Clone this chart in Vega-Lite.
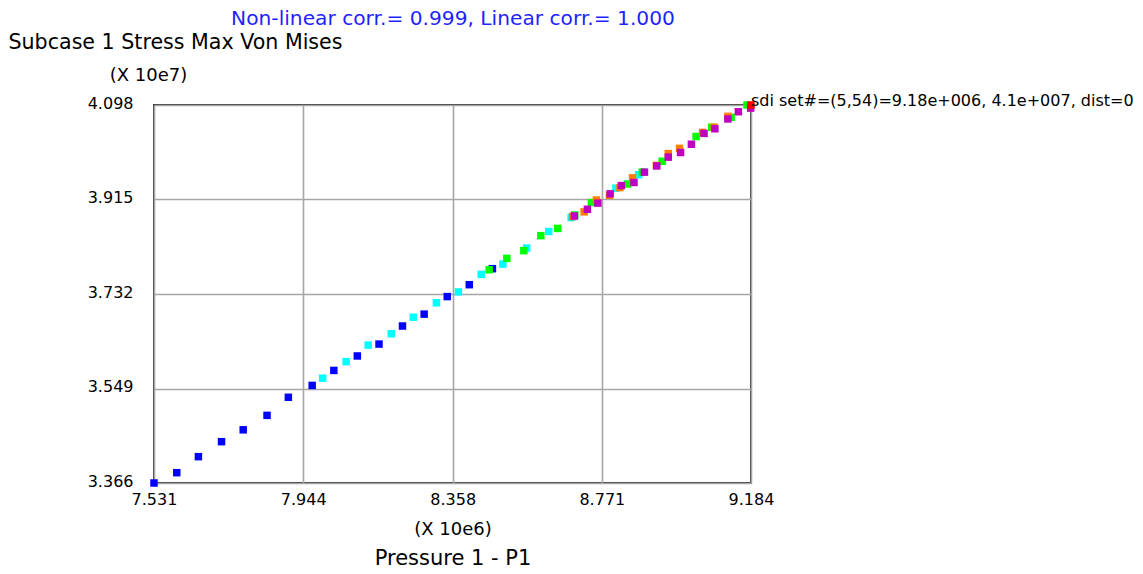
{
  "$schema": "https://vega.github.io/schema/vega-lite/v6.json",
  "width": 597,
  "height": 378,
  "autosize": {"type": "none"},
  "padding": {"left": 154, "top": 105, "right": 392, "bottom": 91},
  "background": "white",
  "config": {
    "font": "DejaVu Sans",
    "view": {"stroke": "#383838", "strokeWidth": 2},
    "axis": {
      "labelFont": "DejaVu Sans",
      "labelFontSize": 16,
      "labelColor": "#000000",
      "labelFlush": false,
      "labelOverlap": false,
      "titleFont": "DejaVu Sans",
      "titleFontWeight": "normal",
      "titleColor": "#000000",
      "ticks": false,
      "domain": false,
      "gridColor": "#a6a6a6",
      "gridWidth": 1.6,
      "gridOpacity": 1
    }
  },
  "datasets": {
    "pts": [
      {"set": "1", "pressure": 7.531, "stress": 3.366},
      {"set": "1", "pressure": 7.594, "stress": 3.386},
      {"set": "1", "pressure": 7.654, "stress": 3.417},
      {"set": "1", "pressure": 7.718, "stress": 3.446},
      {"set": "1", "pressure": 7.778, "stress": 3.469},
      {"set": "1", "pressure": 7.844, "stress": 3.497},
      {"set": "1", "pressure": 7.903, "stress": 3.532},
      {"set": "1", "pressure": 7.969, "stress": 3.555},
      {"set": "1", "pressure": 8.029, "stress": 3.584},
      {"set": "1", "pressure": 8.094, "stress": 3.612},
      {"set": "1", "pressure": 8.154, "stress": 3.635},
      {"set": "1", "pressure": 8.219, "stress": 3.670},
      {"set": "1", "pressure": 8.279, "stress": 3.693},
      {"set": "1", "pressure": 8.343, "stress": 3.727},
      {"set": "1", "pressure": 8.404, "stress": 3.750},
      {"set": "1", "pressure": 8.468, "stress": 3.781},
      {"set": "2", "pressure": 7.998, "stress": 3.569},
      {"set": "2", "pressure": 8.063, "stress": 3.601},
      {"set": "2", "pressure": 8.124, "stress": 3.633},
      {"set": "2", "pressure": 8.188, "stress": 3.655},
      {"set": "2", "pressure": 8.249, "stress": 3.687},
      {"set": "2", "pressure": 8.313, "stress": 3.715},
      {"set": "2", "pressure": 8.374, "stress": 3.736},
      {"set": "2", "pressure": 8.437, "stress": 3.770},
      {"set": "2", "pressure": 8.497, "stress": 3.790},
      {"set": "2", "pressure": 8.563, "stress": 3.821},
      {"set": "2", "pressure": 8.624, "stress": 3.853},
      {"set": "2", "pressure": 8.686, "stress": 3.880},
      {"set": "2", "pressure": 8.810, "stress": 3.937},
      {"set": "2", "pressure": 8.873, "stress": 3.963},
      {"set": "3", "pressure": 8.459, "stress": 3.779},
      {"set": "3", "pressure": 8.508, "stress": 3.801},
      {"set": "3", "pressure": 8.555, "stress": 3.816},
      {"set": "3", "pressure": 8.602, "stress": 3.845},
      {"set": "3", "pressure": 8.649, "stress": 3.859},
      {"set": "3", "pressure": 8.696, "stress": 3.885},
      {"set": "3", "pressure": 8.742, "stress": 3.909},
      {"set": "3", "pressure": 8.842, "stress": 3.945},
      {"set": "3", "pressure": 8.883, "stress": 3.968},
      {"set": "3", "pressure": 8.938, "stress": 3.989},
      {"set": "3", "pressure": 9.032, "stress": 4.037},
      {"set": "3", "pressure": 9.075, "stress": 4.055},
      {"set": "3", "pressure": 9.129, "stress": 4.074},
      {"set": "3", "pressure": 9.173, "stress": 4.098},
      {"set": "4", "pressure": 8.690, "stress": 3.882},
      {"set": "4", "pressure": 8.722, "stress": 3.891},
      {"set": "4", "pressure": 8.756, "stress": 3.914},
      {"set": "4", "pressure": 8.792, "stress": 3.923},
      {"set": "4", "pressure": 8.821, "stress": 3.938},
      {"set": "4", "pressure": 8.856, "stress": 3.957},
      {"set": "4", "pressure": 8.922, "stress": 3.981},
      {"set": "4", "pressure": 8.955, "stress": 4.004},
      {"set": "4", "pressure": 8.986, "stress": 4.014},
      {"set": "4", "pressure": 9.050, "stress": 4.045},
      {"set": "4", "pressure": 9.082, "stress": 4.055},
      {"set": "4", "pressure": 9.120, "stress": 4.076},
      {"set": "5", "pressure": 8.695, "stress": 3.883},
      {"set": "5", "pressure": 8.731, "stress": 3.896},
      {"set": "5", "pressure": 8.760, "stress": 3.908},
      {"set": "5", "pressure": 8.794, "stress": 3.926},
      {"set": "5", "pressure": 8.825, "stress": 3.942},
      {"set": "5", "pressure": 8.860, "stress": 3.948},
      {"set": "5", "pressure": 8.889, "stress": 3.968},
      {"set": "5", "pressure": 8.923, "stress": 3.980},
      {"set": "5", "pressure": 8.955, "stress": 3.997},
      {"set": "5", "pressure": 8.989, "stress": 4.006},
      {"set": "5", "pressure": 9.019, "stress": 4.022},
      {"set": "5", "pressure": 9.054, "stress": 4.043},
      {"set": "5", "pressure": 9.084, "stress": 4.052},
      {"set": "5", "pressure": 9.120, "stress": 4.071},
      {"set": "5", "pressure": 9.149, "stress": 4.085},
      {"set": "5", "pressure": 9.183, "stress": 4.092}
    ],
    "sel": [
      {"pressure": 9.184, "stress": 4.098, "note": "sdi set#=(5,54)=9.18e+006, 4.1e+007, dist=0"}
    ]
  },
  "layer": [
    {
      "data": {"name": "pts"},
      "mark": {"type": "point", "shape": "square", "filled": true, "size": 56, "opacity": 1},
      "encoding": {
        "x": {
          "field": "pressure", "type": "quantitative",
          "scale": {"domain": [7.531, 9.184], "nice": false, "zero": false},
          "axis": {
            "orient": "bottom",
            "values": [7.531, 7.944, 8.358, 8.771, 9.184],
            "format": ".3f",
            "labelPadding": 8,
            "title": "(X 10e6)",
            "titleFontSize": 18,
            "titleAlign": "center",
            "titleBaseline": "middle",
            "titleX": 298.5,
            "titleY": 46
          }
        },
        "y": {
          "field": "stress", "type": "quantitative",
          "scale": {"domain": [3.366, 4.098], "nice": false, "zero": false},
          "axis": {
            "values": [3.366, 3.549, 3.732, 3.915, 4.098],
            "format": ".3f",
            "labelPadding": 21,
            "labelOffset": -2,
            "title": "Subcase 1 Stress Max Von Mises",
            "titleFontSize": 20.6,
            "titleAngle": 0,
            "titleAlign": "left",
            "titleBaseline": "middle",
            "titleX": -146,
            "titleY": -63
          }
        },
        "color": {
          "field": "set", "type": "nominal",
          "scale": {"domain": ["1", "2", "3", "4", "5"], "range": ["#0000ff", "#00ffff", "#00ff00", "#ff8000", "#c000c0"]},
          "legend": null
        }
      }
    },
    {
      "data": {"name": "sel"},
      "mark": {"type": "point", "shape": "square", "filled": true, "size": 56, "opacity": 1, "color": "#ff0000"},
      "encoding": {
        "x": {
          "field": "pressure", "type": "quantitative",
          "scale": {"domain": [7.531, 9.184], "nice": false, "zero": false},
          "axis": {
            "orient": "top",
            "labels": false,
            "grid": false,
            "title": "Non-linear corr.= 0.999, Linear corr.= 1.000",
            "titleColor": "#1f1fff",
            "titleFontSize": 20.2,
            "titleAlign": "center",
            "titleBaseline": "middle",
            "titleX": 298.5,
            "titleY": -87
          }
        },
        "y": {
          "field": "stress", "type": "quantitative",
          "scale": {"domain": [3.366, 4.098], "nice": false, "zero": false},
          "axis": {
            "orient": "right",
            "labels": false,
            "grid": false,
            "title": "(X 10e7)",
            "titleFontSize": 18,
            "titleAngle": 0,
            "titleAlign": "center",
            "titleBaseline": "middle",
            "titleX": -603,
            "titleY": -30
          }
        }
      }
    },
    {
      "data": {"name": "sel"},
      "mark": {"type": "text", "align": "left", "baseline": "middle", "dx": 0, "dy": -4, "fontSize": 16, "color": "#000000"},
      "encoding": {
        "x": {
          "field": "pressure", "type": "quantitative",
          "scale": {"domain": [7.531, 9.184], "nice": false, "zero": false},
          "axis": {
            "orient": "bottom",
            "labels": false,
            "grid": false,
            "title": "Pressure 1 - P1",
            "titleFontSize": 21,
            "titleAlign": "center",
            "titleBaseline": "middle",
            "titleX": 298.5,
            "titleY": 75
          }
        },
        "y": {"field": "stress", "type": "quantitative", "axis": null},
        "text": {"field": "note"}
      }
    }
  ],
  "resolve": {"axis": {"x": "independent", "y": "independent"}}
}
